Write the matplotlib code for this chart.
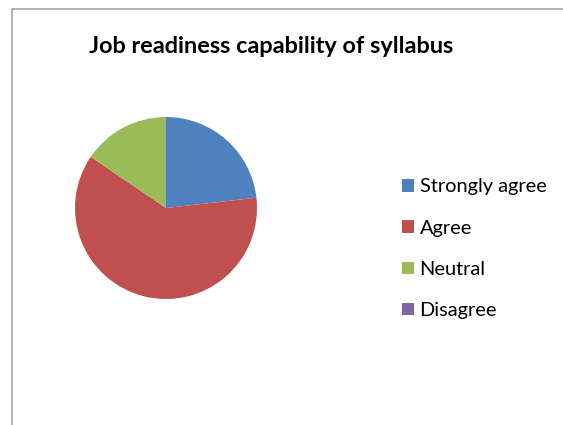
import matplotlib.pyplot as plt
from matplotlib.patches import Rectangle, Patch

# Survey responses (share of respondents, %)
categories = ["Strongly agree", "Agree", "Neutral", "Disagree"]
shares = [23.2, 61.3, 15.5, 0.0]
colors = ["#4F81BD", "#C0504D", "#9BBB59", "#8064A2"]

W, H = 563, 425
fig = plt.figure(figsize=(W / 100, H / 100), dpi=100)

# chart-area frame (only top and left edges visible in the crop)
fig.patches.append(Rectangle((12 / W, -0.1), 1.2, (H - 9) / H + 0.1,
                             transform=fig.transFigure, fill=False,
                             edgecolor="#a6a6a6", linewidth=1.2))

# pie
cx, cy, r = 166, 208, 91
ax = fig.add_axes([(cx - r) / W, (H - cy - r) / H, 2 * r / W, 2 * r / H])
ax.pie(shares, colors=colors, startangle=90, counterclock=False,
       wedgeprops=dict(linewidth=0))
ax.set_xlim(-1, 1)
ax.set_ylim(-1, 1)
ax.set_aspect("equal")
ax.axis("off")

fig.text(271.5 / W, 1 - 46.5 / H, "Job readiness capability of syllabus",
         ha="center", va="center", fontsize=16.9, fontweight="bold",
         family="Lato")

handles = [Patch(facecolor=c, edgecolor="none") for c in colors]
fig.legend(handles, categories, loc="upper left",
           bbox_to_anchor=(402 / W, 1 - 178.5 / H), frameon=False,
           prop=dict(family="Lato", size=14.4), handlelength=0.6,
           handleheight=0.6, handletextpad=0.28, labelspacing=1.21,
           borderpad=0, borderaxespad=0)

fig.savefig("out.png", dpi=100, facecolor="white")
